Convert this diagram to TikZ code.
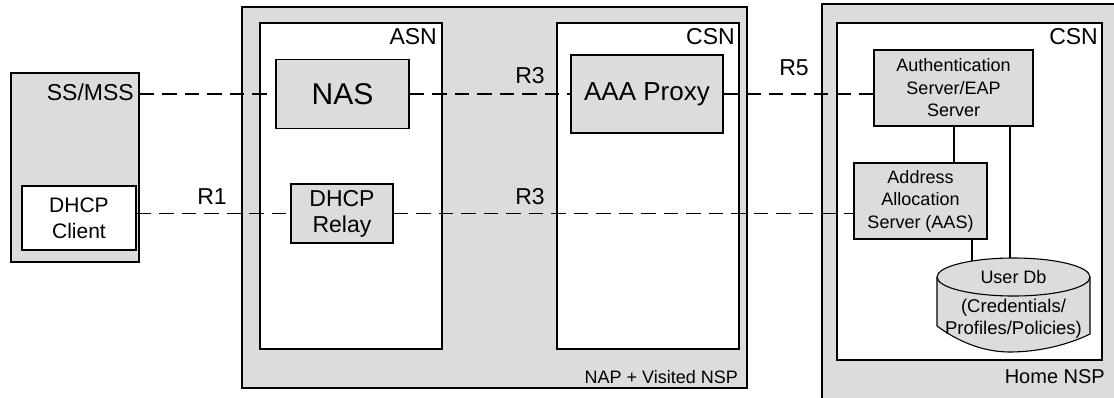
\documentclass[tikz,border=0pt]{standalone}
\usepackage{fontspec}
\setmainfont{Liberation Sans}
\definecolor{boxgray}{RGB}{220,220,220}
\begin{document}
\begin{tikzpicture}[x=1pt,y=-1pt,
  outer/.style={draw=black,line width=1.7pt,fill=boxgray,inner sep=0pt,minimum width=#1},
  inner/.style={draw=black,line width=1.4pt,fill=white,inner sep=0pt},
  comp/.style={draw=black,line width=1.3pt,fill=boxgray,inner sep=0pt,align=center},
  lbl/.style={inner sep=0pt,font=\fontsize{23}{27}\selectfont},
  dl/.style={line width=1.2pt,dash pattern=on 14.5pt off 8pt},
  sl/.style={line width=1.1pt}]
\useasboundingbox (0,0) rectangle (1114,397);
\clip (0,0) rectangle (1114,397);
\fill[white] (0,0) rectangle (1114,397);

% SS/MSS
\node[outer=128pt,minimum height=189pt] (ss) at (75,167.5) {};
\node[lbl,anchor=east] (sslbl) at (134,92) {SS/MSS};
\node[inner,minimum width=114pt,minimum height=64pt,align=center,font=\fontsize{21}{26}\selectfont] (client) at (79,218) {DHCP\\Client};

% NAP + Visited NSP
\node[outer=505pt,minimum height=381pt] (nap) at (494.5,197.5) {};
\node[inner sep=0pt,anchor=east,font=\fontsize{18}{22}\selectfont] (naplbl) at (738,377) {NAP + Visited NSP};
\node[inner,minimum width=182pt,minimum height=326pt] (asn) at (351,186) {};
\node[lbl,anchor=east] (asnlbl) at (437,37) {ASN};
\node[inner,minimum width=182pt,minimum height=326pt] (csn1) at (648,186) {};
\node[lbl,anchor=east] (csn1lbl) at (735,37) {CSN};
\node[comp,minimum width=133pt,minimum height=69pt,font=\fontsize{30}{34}\selectfont] (nas) at (342.5,94) {NAS};
\node[comp,minimum width=102pt,minimum height=59pt,font=\fontsize{23}{26}\selectfont] (relay) at (342,213.5) {DHCP\\Relay};
\node[comp,minimum width=152pt,minimum height=78pt,font=\fontsize{26}{30}\selectfont] (aaa) at (647,94) {AAA Proxy};

% Home NSP
\node[outer=305pt,minimum height=410pt] (home) at (974.5,209) {};
\node[inner sep=0pt,anchor=east,font=\fontsize{20}{24}\selectfont] (homelbl) at (1105,377) {Home NSP};
\node[inner,minimum width=265pt,minimum height=337pt] (csn2) at (969.5,191.5) {};
\node[lbl,anchor=east] (csn2lbl) at (1098,37) {CSN};
\node[comp,minimum width=159pt,minimum height=76pt,font=\fontsize{18}{22.5}\selectfont] (auth) at (953.5,88) {Authentication\\Server/EAP\\Server};
\node[comp,minimum width=133pt,minimum height=76pt,font=\fontsize{18}{22.5}\selectfont] (aas) at (920.5,201) {Address\\Allocation\\Server (AAS)};

% User Db cylinder
\filldraw[fill=boxgray,draw=black,line width=1.1pt]
  (937,277) -- (937,326) .. controls (960,343) and (985,352) .. (1010,352)
  .. controls (1040,352) and (1070,344) .. (1090,334) -- (1090,277);
\filldraw[fill=boxgray,draw=black,line width=1.1pt] (1013.5,277) ellipse[x radius=76.5pt,y radius=19pt];
\coordinate (dbl) at (972,261);
\coordinate (dbr) at (1010,258);
\node[inner sep=0pt,font=\fontsize{18}{22}\selectfont] (udb1) at (1013.5,277) {User Db};
\node[inner sep=0pt,font=\fontsize{18.5}{22}\selectfont] (udb2) at (1013.5,308) {(Credentials/};
\node[inner sep=0pt,font=\fontsize{18.5}{22}\selectfont] (udb3) at (1013.5,330) {Profiles/Policies)};

% connectors
\draw[dl] (nas.west -| ss.east) -- (nas.west);
\draw[dl] (nas.east) -- (aaa.west);
\draw[dl] (aaa.east) -- (aaa.east -| auth.west);
\draw[dl] (relay.west -| client.east) -- (relay.west);
\draw[dl] (relay.east) -- (relay.east -| aas.west);
\draw[sl] (auth.south -| aas.north) ++(33.5,0) coordinate (a1) -- (a1 |- aas.north);
\draw[sl] (auth.south -| dbr) -- (dbr);
\draw[sl] (aas.south -| dbl) -- (dbl);

% interface labels
\node[lbl] (r1) at (212,197) {R1};
\node[lbl] (r3a) at (530,76) {R3};
\node[lbl] (r3b) at (530,197) {R3};
\node[lbl] (r5) at (794,68) {R5};
\end{tikzpicture}
\end{document}
